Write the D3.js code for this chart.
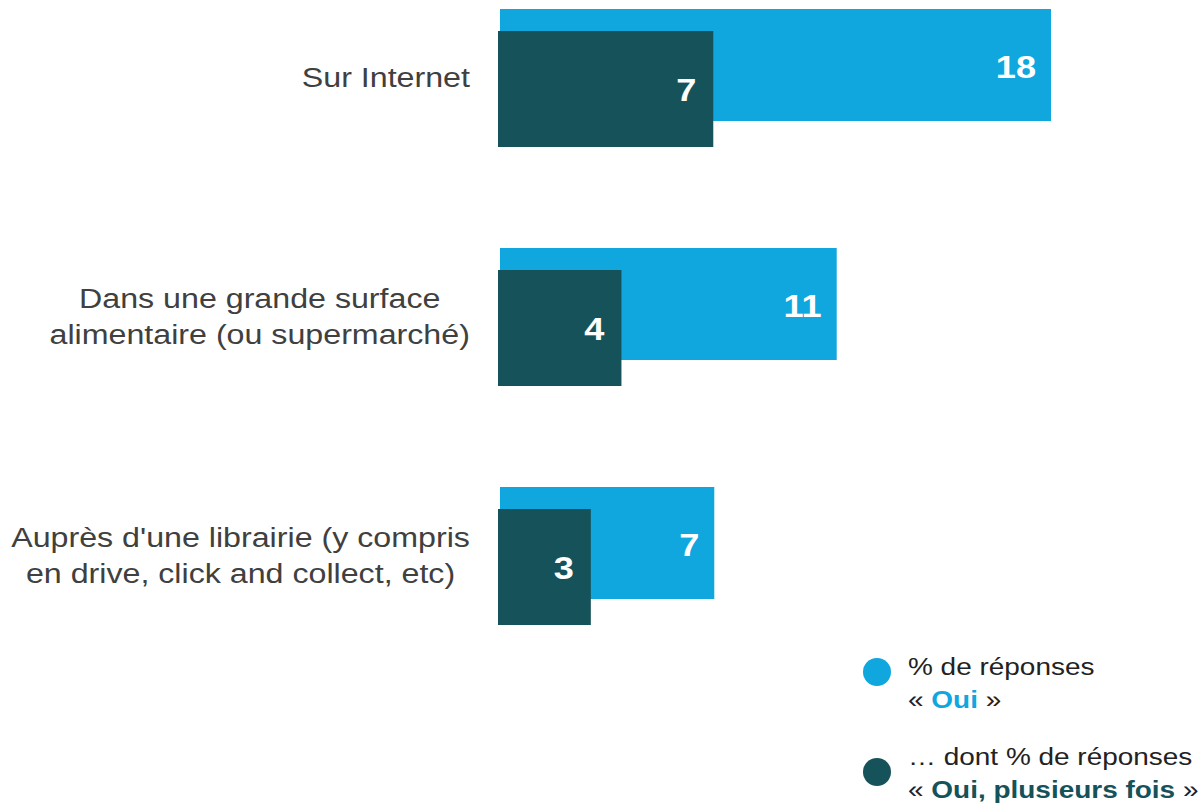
<!DOCTYPE html>
<html>
<head>
<meta charset="utf-8">
<script src="https://cdn.jsdelivr.net/npm/d3@7"></script>
<style>
  body { margin: 0; background: #fff; }
  text { font-family: "Liberation Sans", Arial, sans-serif; }
</style>
</head>
<body>
<div id="main"></div>
<script>
const w = 1199;
const h = 805;

// data
const categories = [
  ['Sur Internet'],
  ['Dans une grande surface', 'alimentaire (ou supermarché)'],
  ["Auprès d'une librairie (y compris", 'en drive, click and collect, etc)']
];
const oui = [18, 11, 7];
const ouiPlusieurs = [7, 4, 3];
const legendLines = [
  ['% de réponses', '« ', 'Oui', ' »'],
  ['… dont % de réponses', '« ', 'Oui, plusieurs fois', ' »']
];

const light = '#10a7df';
const dark = '#165259';
const stretch = 1.15;

const svg = d3.select('#main')
  .append('svg')
  .attr('width', w)
  .attr('height', h);

const y = d3.scaleBand()
  .domain(d3.range(categories.length))
  .range([9, 9 + 239 * categories.length]);

const xScale = d3.scaleLinear()
  .domain([0, 18])
  .range([0, 551]);

// light bars
svg.selectAll('rect.oui')
  .data(oui)
  .enter()
  .append('rect')
  .attr('class', 'oui')
  .attr('x', 500)
  .attr('y', (d, i) => y(i))
  .attr('width', d => xScale(d))
  .attr('height', 112)
  .attr('fill', light);

// dark bars
svg.selectAll('rect.plus')
  .data(ouiPlusieurs)
  .enter()
  .append('rect')
  .attr('class', 'plus')
  .attr('x', 498)
  .attr('y', (d, i) => y(i) + 22)
  .attr('width', d => xScale(d) + 1)
  .attr('height', 116)
  .attr('fill', dark);

// value labels
svg.selectAll('text.vOui')
  .data(oui)
  .enter()
  .append('text')
  .attr('class', 'vOui')
  .attr('transform', (d, i) => 'translate(' + (500 + xScale(d) - 15) + ',' + (y(i) + 57) + ') scale(1.13,1)')
  .attr('text-anchor', 'end')
  .attr('dy', '0.36em')
  .attr('font-size', '32px')
  .attr('font-weight', 'bold')
  .attr('fill', '#fff')
  .text(d => d);

svg.selectAll('text.vPlus')
  .data(ouiPlusieurs)
  .enter()
  .append('text')
  .attr('class', 'vPlus')
  .attr('transform', (d, i) => 'translate(' + (498 + xScale(d) - 16) + ',' + (y(i) + 22 + 58) + ') scale(1.13,1)')
  .attr('text-anchor', 'end')
  .attr('dy', '0.36em')
  .attr('font-size', '32px')
  .attr('font-weight', 'bold')
  .attr('fill', '#fff')
  .text(d => d);

// category labels
const lineH = 36;
categories.forEach((lines, i) => {
  const g = svg.append('g');
  const t = g.append('text')
    .attr('font-size', '28px')
    .attr('fill', '#404040')
    .attr('text-anchor', 'middle');
  lines.forEach((l, j) => {
    t.append('tspan')
      .attr('x', 0)
      .attr('y', (j - (lines.length - 1) / 2) * lineH)
      .attr('dy', '0.35em')
      .text(l);
  });
  const maxW = d3.max(t.selectAll('tspan').nodes(), n => n.getComputedTextLength());
  const cx = 470 - maxW * stretch / 2;
  const cy = y(i) + 68;
  g.attr('transform', 'translate(' + cx + ',' + cy + ') scale(' + stretch + ',1)');
});

// legend
const legendY = [672, 772];
const legendTextY = [666, 756];
const legendColors = [light, dark];
legendLines.forEach((l, i) => {
  svg.append('circle')
    .attr('cx', 877)
    .attr('cy', legendY[i])
    .attr('r', 14)
    .attr('fill', legendColors[i]);
  const g = svg.append('g')
    .attr('transform', 'translate(908,' + legendTextY[i] + ') scale(1.165,1)');
  g.append('text')
    .attr('font-size', '24px')
    .attr('fill', '#222')
    .attr('dy', '0.36em')
    .text(l[0]);
  const t2 = g.append('text')
    .attr('font-size', '24px')
    .attr('fill', '#222')
    .attr('y', 33)
    .attr('dy', '0.36em');
  t2.append('tspan').text(l[1]);
  t2.append('tspan').attr('font-weight', 'bold').attr('fill', legendColors[i]).text(l[2]);
  t2.append('tspan').text(l[3]);
});
</script>
</body>
</html>
